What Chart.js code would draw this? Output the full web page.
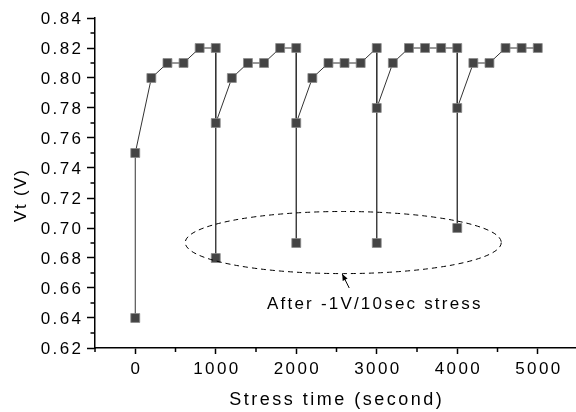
<!DOCTYPE html>
<html><head><meta charset="utf-8">
<script src="https://cdn.jsdelivr.net/npm/chart.js@4"></script>
<style>html,body{margin:0;padding:0;background:#fff}</style>
</head><body>
<canvas id="c" width="576" height="412"></canvas>
<script>
// ---- data ----
const stressTime = [0,0,200,400,600,800,1000,1000,1000,1200,1400,1600,1800,2000,2000,2000,2200,2400,2600,2800,3000,3000,3000,3200,3400,3600,3800,4000,4000,4000,4200,4400,4600,4800,5000];
const vt = [0.64,0.75,0.80,0.81,0.81,0.82,0.82,0.68,0.77,0.80,0.81,0.81,0.82,0.82,0.69,0.77,0.80,0.81,0.81,0.81,0.82,0.69,0.78,0.81,0.82,0.82,0.82,0.82,0.70,0.78,0.81,0.81,0.82,0.82,0.82];
const xTickValues = [0,1000,2000,3000,4000,5000];
const xTickLabels = ['0','1000','2000','3000','4000','5000'];
const xMinorTicks = [-500,500,1500,2500,3500,4500];
const yTickLabels = ['0.62','0.64','0.66','0.68','0.70','0.72','0.74','0.76','0.78','0.80','0.82','0.84'];
const yMinorTicks = [0.63,0.65,0.67,0.69,0.71,0.73,0.75,0.77,0.79,0.81,0.83];
const xTitle = 'Stress time (second)';
const yTitle = 'Vt (V)';
const noteText = 'After -1V/10sec stress';
// annotation (data coordinates)
const ellipseCenter = [2584, 0.6903];
const ellipseRadius = [1963, 0.0207];
const arrowFrom = [2658, 0.6600];
const arrowTo = [2571, 0.6693];
const notePos = [2963, 0.6458];

const FONT = 'Arial, "Liberation Sans", sans-serif';

function spacedText(ctx, text, x, y, spacing, align) {
  ctx.letterSpacing = spacing + 'px';
  ctx.textAlign = align;
  let dx = 0;
  if (align === 'center') dx = spacing / 2;
  else if (align === 'right') dx = spacing;
  ctx.fillText(text, x + dx, y);
}

const extras = {
  id: 'extras',
  afterDraw(chart){
    const ctx = chart.ctx, xs = chart.scales.x, ys = chart.scales.y;
    const ca = chart.chartArea;
    ctx.save();
    ctx.strokeStyle = '#000'; ctx.lineWidth = 1.5;
    // minor ticks
    ctx.beginPath();
    yMinorTicks.forEach(v => { const y = ys.getPixelForValue(v); ctx.moveTo(ca.left, y); ctx.lineTo(ca.left - 4.5, y); });
    xMinorTicks.forEach(v => { const x = xs.getPixelForValue(v); ctx.moveTo(x, ca.bottom); ctx.lineTo(x, ca.bottom + 4); });
    ctx.stroke();
    // tick labels
    ctx.fillStyle = '#000';
    ctx.font = '17px ' + FONT;
    ctx.textBaseline = 'alphabetic';
    yTickLabels.forEach(t => spacedText(ctx, t, 81, ys.getPixelForValue(parseFloat(t)) + 5.5, 2.4, 'right'));
    xTickValues.forEach((v, i) => spacedText(ctx, xTickLabels[i], xs.getPixelForValue(v), ca.bottom + 25.5, 2.4, 'center'));
    // ellipse
    const cx = xs.getPixelForValue(ellipseCenter[0]), cy = ys.getPixelForValue(ellipseCenter[1]);
    const rx = xs.getPixelForValue(ellipseCenter[0] + ellipseRadius[0]) - cx;
    const ry = cy - ys.getPixelForValue(ellipseCenter[1] + ellipseRadius[1]);
    ctx.lineWidth = 1; ctx.strokeStyle = '#000';
    ctx.setLineDash([5,4]);
    ctx.beginPath(); ctx.ellipse(cx, cy, rx, ry, 0, 0, Math.PI*2); ctx.stroke();
    ctx.setLineDash([]);
    // arrow
    const ax = xs.getPixelForValue(arrowFrom[0]), ay = ys.getPixelForValue(arrowFrom[1]);
    const bx = xs.getPixelForValue(arrowTo[0]), by = ys.getPixelForValue(arrowTo[1]);
    ctx.beginPath(); ctx.moveTo(ax, ay); ctx.lineTo(bx, by); ctx.stroke();
    const ang = Math.atan2(by - ay, bx - ax), L = 7, W = 0.4;
    ctx.beginPath(); ctx.moveTo(bx, by);
    ctx.lineTo(bx - L*Math.cos(ang - W), by - L*Math.sin(ang - W));
    ctx.lineTo(bx - L*Math.cos(ang + W), by - L*Math.sin(ang + W));
    ctx.closePath(); ctx.fill();
    // note text
    ctx.font = '17px ' + FONT;
    spacedText(ctx, noteText, xs.getPixelForValue(notePos[0]), ys.getPixelForValue(notePos[1]), 2.2, 'center');
    // axis titles
    ctx.font = '18px ' + FONT;
    spacedText(ctx, xTitle, (ca.left + ca.right)/2, 405, 2.5, 'center');
    ctx.translate(21, 196); ctx.rotate(-Math.PI/2);
    ctx.font = '17px ' + FONT;
    ctx.textBaseline = 'middle';
    spacedText(ctx, yTitle, 0, 0, 1.7, 'center');
    ctx.restore();
  }
};

new Chart(document.getElementById('c'), {
  type: 'scatter',
  data: { datasets: [{
    data: stressTime.map((x, i) => ({x, y: vt[i]})),
    showLine: true,
    borderColor: '#333', borderWidth: 1,
    pointStyle: 'rect', pointRadius: 6.3,
    pointBackgroundColor: '#444', pointBorderColor: '#888', pointBorderWidth: 0.8
  }]},
  options: {
    responsive: false, animation: false, devicePixelRatio: 1,
    layout: { autoPadding: false, padding: { top: 18, left: 0, right: 0, bottom: 0 } },
    plugins: { legend: { display: false }, tooltip: { enabled: false } },
    scales: {
      x: {
        type: 'linear', min: -500, max: 5475,
        afterBuildTicks: s => { s.ticks = xTickValues.map(v => ({value: v})); },
        afterFit: s => { s.height = 64; s.paddingLeft = 0; s.paddingRight = 0; },
        ticks: { display: false },
        grid: { drawOnChartArea: false, drawTicks: true, tickLength: 6, tickColor: '#000', tickWidth: 1.5 },
        border: { color: '#000', width: 1.5 }
      },
      y: {
        min: 0.62, max: 0.84,
        afterBuildTicks: s => { s.ticks = yTickLabels.map(t => ({value: parseFloat(t)})); },
        afterFit: s => { s.width = 95; s.paddingTop = 0; s.paddingBottom = 0; },
        ticks: { display: false },
        grid: { drawOnChartArea: false, drawTicks: true, tickLength: 8, tickColor: '#000', tickWidth: 1.5 },
        border: { color: '#000', width: 1.5 }
      }
    }
  },
  plugins: [extras]
});
</script>
</body></html>
